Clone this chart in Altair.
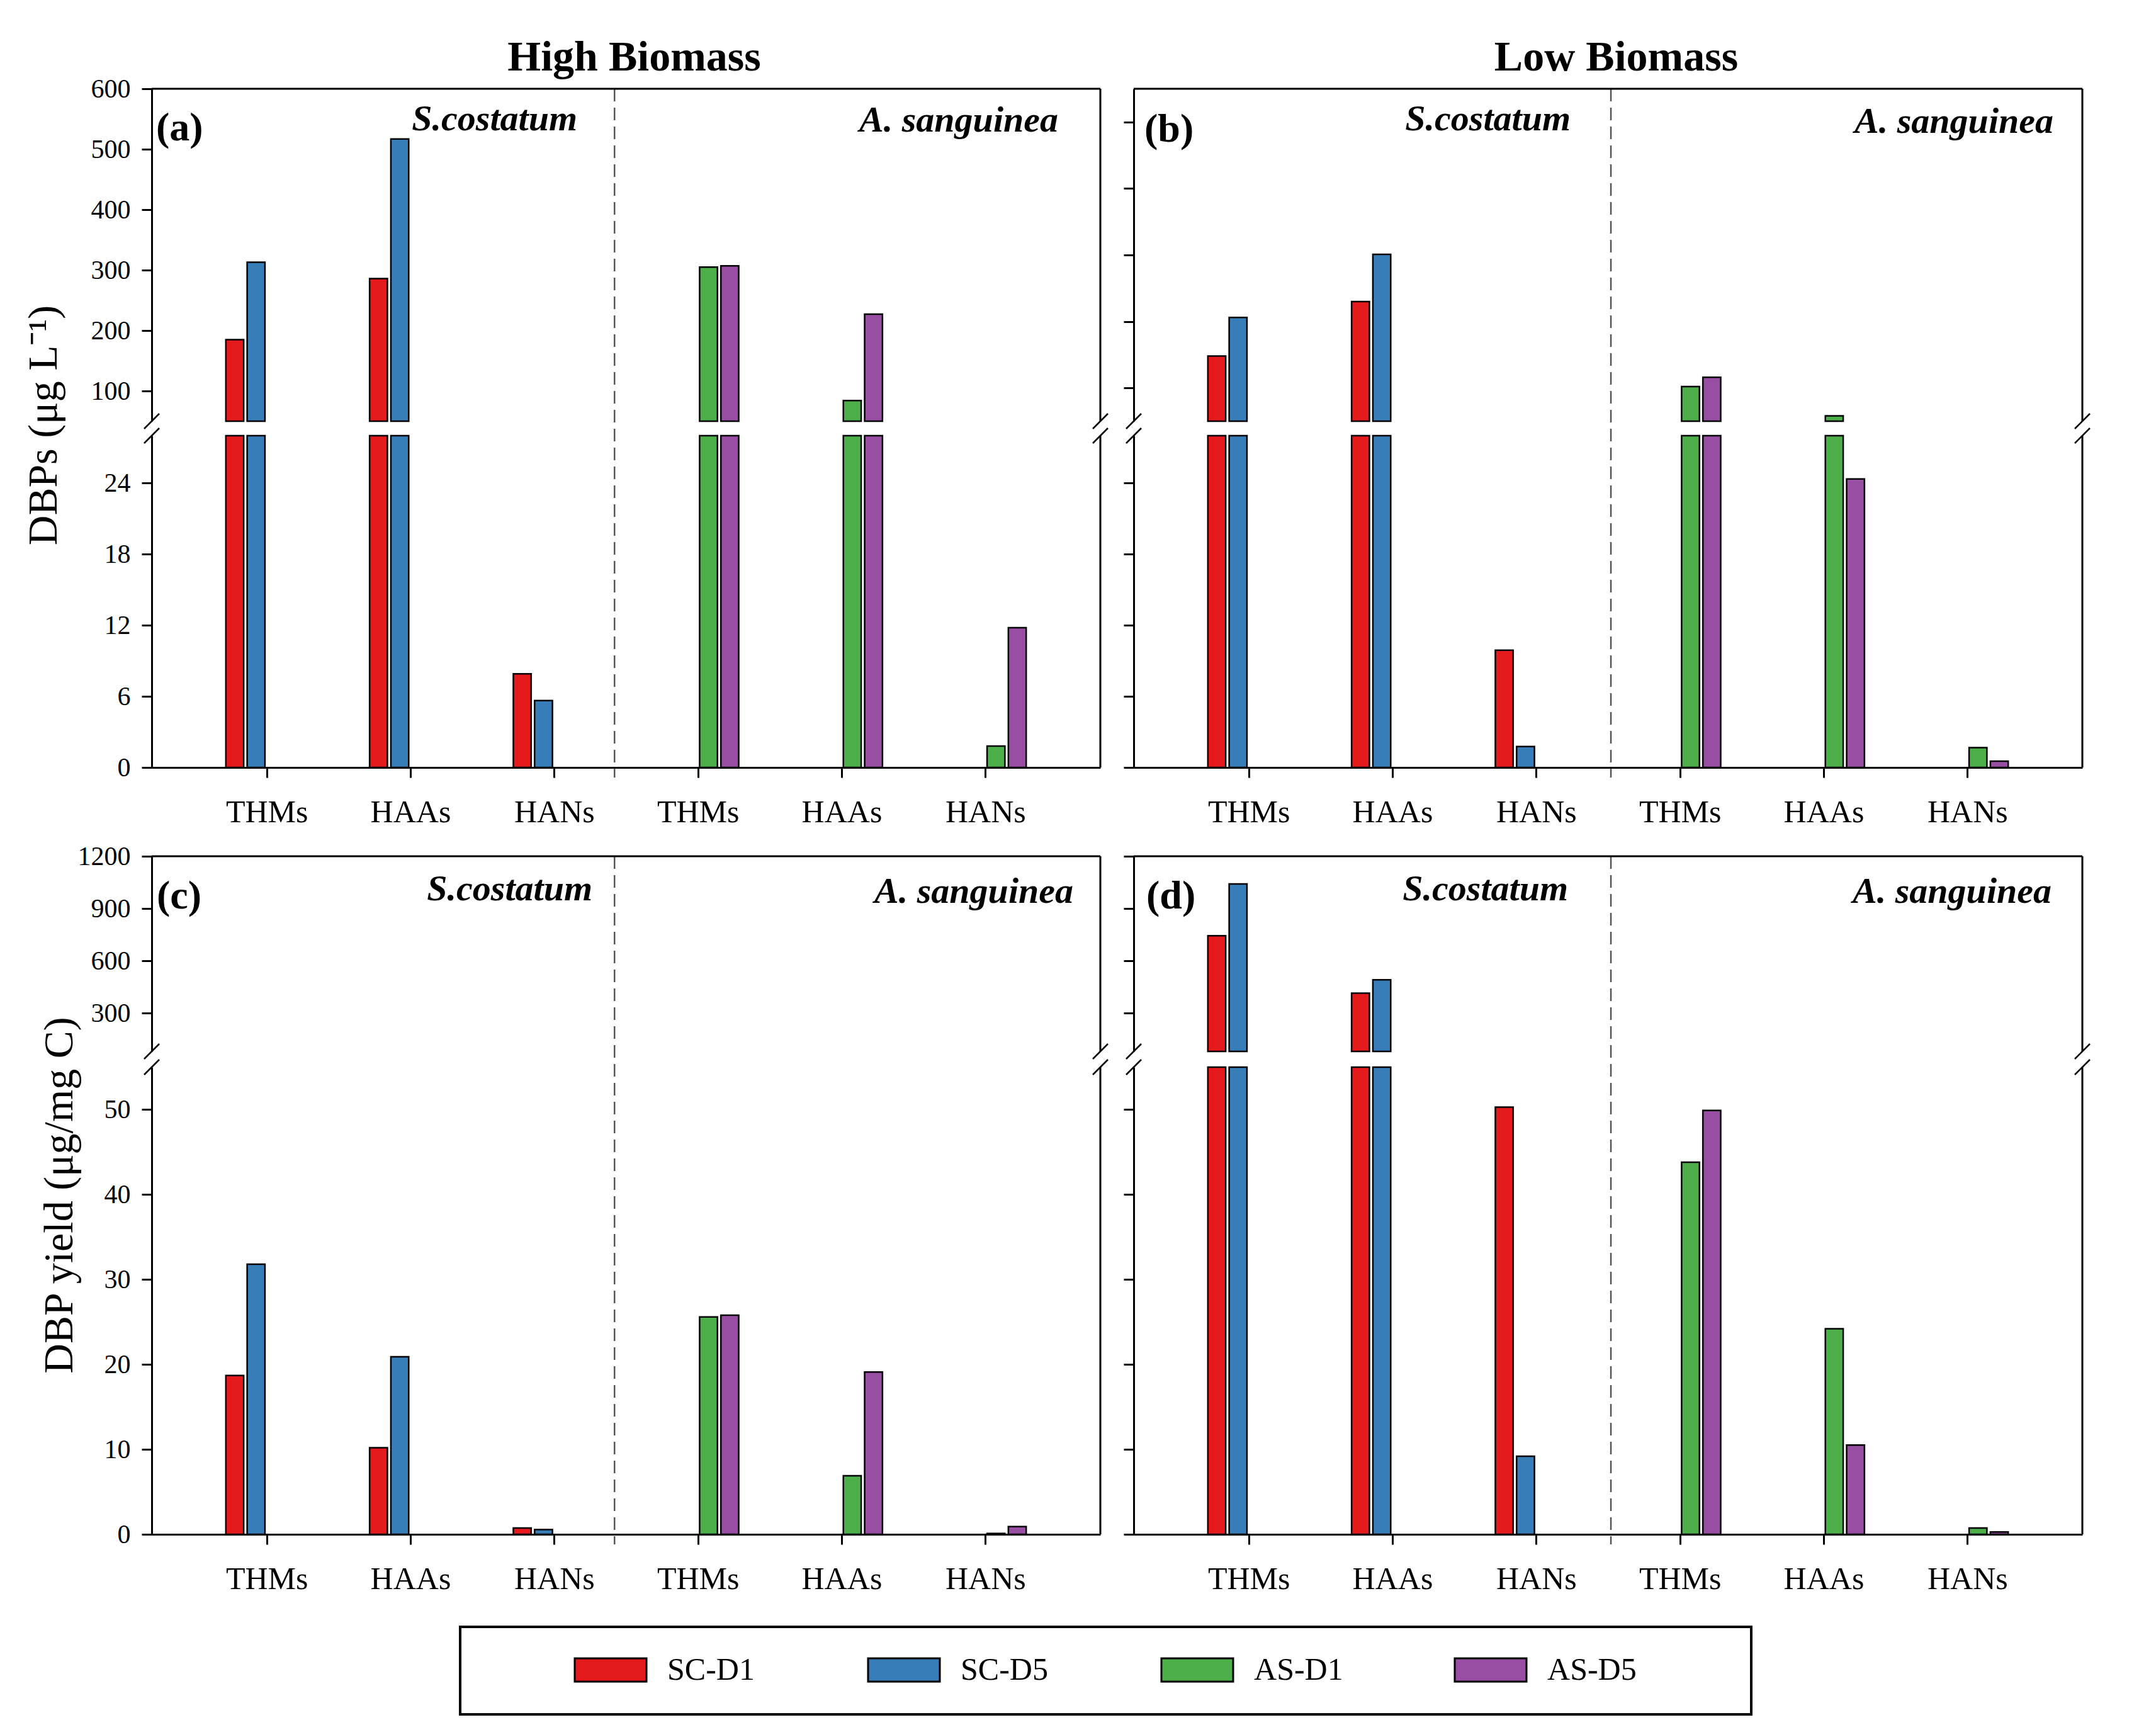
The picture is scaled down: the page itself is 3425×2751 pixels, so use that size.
import json
import altair as alt
import pandas as pd

FONT = "Liberation Serif"

series = ["SC-D1", "SC-D5", "AS-D1", "AS-D5"]
series_colors = ["#E41A1C", "#377EB8", "#4DAF4A", "#984EA3"]
categories = ["THMs", "HAAs", "HANs"]
x_labels = categories + categories

# (a) High biomass, DBPs (ug/L)
a_sc_d1 = [185, 286, 7.9]
a_sc_d5 = [313, 517, 5.65]
a_as_d1 = [305, 84, 1.8]
a_as_d5 = [307, 227, 11.8]
# (b) Low biomass, DBPs (ug/L)
b_sc_d1 = [148, 230, 9.9]
b_sc_d5 = [206, 301, 1.76]
b_as_d1 = [102, 58, 1.67]
b_as_d5 = [116, 24.35, 0.53]
# (c) High biomass, DBP yield (ug/mg C)
c_sc_d1 = [18.7, 10.2, 0.75]
c_sc_d5 = [31.8, 20.9, 0.55]
c_as_d1 = [25.6, 6.9, 0.1]
c_as_d5 = [25.8, 19.1, 0.9]
# (d) Low biomass, DBP yield (ug/mg C)
d_sc_d1 = [744, 414, 50.3]
d_sc_d5 = [1041, 491, 9.2]
d_as_d1 = [43.8, 24.2, 0.75]
d_as_d5 = [49.9, 10.5, 0.27]


def build_df(sc_d1, sc_d5, as_d1, as_d5):
    rows = []
    for name, vals in zip(series, [sc_d1, sc_d5, as_d1, as_d5]):
        start = 1 if name.startswith("SC") else 4
        for k, v in enumerate(vals):
            rows.append({"series": name, "grp": start + k, "value": v})
    return pd.DataFrame(rows)


SER_EXPR = json.dumps(series).replace('"', "'")
LAB_EXPR = json.dumps(x_labels).replace('"', "'")
one = pd.DataFrame({"k": [0]})
color = alt.Color("series:N", scale=alt.Scale(domain=series, range=series_colors), legend=None)
xs = alt.Scale(domain=[0.2, 6.8], nice=False, zero=False)
x_axis = alt.Axis(values=[1, 2, 3, 4, 5, 6], labelExpr=f"{LAB_EXPR}[datum.value - 1]",
                  title=None, tickSize=16, labelPadding=30, labelFontSize=50, orient="bottom")


def rule(**enc):
    return alt.Chart(one).mark_rule(stroke="black", strokeWidth=3).encode(**enc)


def slash(px, py):
    return alt.Chart(one).mark_rule(stroke="black", strokeWidth=2.5).encode(
        x=alt.value(px - 12), x2=alt.value(px + 12), y=alt.value(py + 12), y2=alt.value(py - 12))


def label(txt, x, y, align, size, weight="bold", style="normal"):
    return alt.Chart(one).mark_text(
        text=txt, align=align, baseline="alphabetic", font=FONT, fontSize=size,
        fontWeight=weight, fontStyle=style, color="black").encode(x=alt.value(x), y=alt.value(y))


def panel(df, W, Hu, Hl, gap, up_dom, up_ticks, lo_dom, lo_ticks, left, ytitle, tx, ty,
          dash_x, tag, tag_pos, sc_pos, as_pos, title=None):
    H = Hu + gap + Hl
    base = alt.Chart(df).transform_calculate(
        x0=f"datum.grp + (indexof({SER_EXPR}, datum.series) - 1.5) * 0.148 - 0.062"
    ).transform_calculate(x1="datum.x0 + 0.124")

    ax_kw = dict(orient="left", values=up_ticks, labels=left, tickSize=16, labelPadding=18,
                 labelFontSize=42, format="d")
    if left:
        ax_kw.update(title=ytitle, titleFontSize=66, titleFontWeight="normal", titleX=tx, titleY=ty,
                     titleAngle=270, titleAlign="center", titleBaseline="bottom")
    else:
        ax_kw.update(title=None)
    up_bars = base.transform_filter(f"datum.value > {up_dom[0]}").mark_bar(
        stroke="black", strokeWidth=2.5).encode(
        x=alt.X("x0:Q", scale=xs, axis=x_axis), x2="x1:Q",
        y=alt.Y("value:Q", scale=alt.Scale(domain=up_dom, range=[Hu, 0], nice=False, zero=False),
                axis=alt.Axis(**ax_kw)),
        y2=alt.datum(up_dom[0]), color=color)

    lo_axis = alt.Axis(orient="left", values=lo_ticks, labels=left, title=None, tickSize=16,
                       labelPadding=18, labelFontSize=42, format="d")
    lo_bars = base.transform_calculate(vlow=f"min(datum.value, {lo_dom[1]})").mark_bar(
        stroke="black", strokeWidth=2.5).encode(
        x=alt.X("x0:Q", scale=xs, axis=x_axis), x2="x1:Q",
        y=alt.Y("vlow:Q", scale=alt.Scale(domain=lo_dom, range=[H, Hu + gap], nice=False, zero=False),
                axis=lo_axis),
        y2=alt.datum(0), color=color)

    dash = alt.Chart(one).mark_rule(strokeDash=[20, 10], stroke="#555555", strokeWidth=2.5).encode(
        x=alt.XDatum(dash_x, scale=xs, axis=x_axis), y=alt.value(0), y2=alt.value(H + 16))

    layers = [
        lo_bars, up_bars, dash,
        rule(x=alt.value(0), x2=alt.value(W), y=alt.value(0)),
        rule(x=alt.value(W), y=alt.value(0), y2=alt.value(Hu)),
        rule(x=alt.value(W), y=alt.value(Hu + gap), y2=alt.value(H)),
        slash(0, Hu), slash(W, Hu), slash(0, Hu + gap), slash(W, Hu + gap),
        label(tag, tag_pos[0], tag_pos[1], "left", 64),
        label("S.costatum", sc_pos[0], sc_pos[1], "right", 58, style="italic"),
        label("A. sanguinea", as_pos[0], as_pos[1], "right", 58, style="italic"),
    ]
    if title:
        layers.append(label(title, W / 2 + 13, -29, "center", 68))
    return alt.layer(*layers).resolve_scale(y="independent").resolve_axis(y="independent").properties(
        width=W, height=H)


WL, WR = 1507, 1507
pa = panel(build_df(a_sc_d1, a_sc_d5, a_as_d1, a_as_d5), WL, 528, 527, 23,
           [50, 600], [100, 200, 300, 400, 500, 600], [0, 28], [0, 6, 12, 18, 24],
           True, "DBPs (\u03bcg L\u207b\u00b9)", -138, 534, 3.42,
           "(a)", (7, 82), (676, 66), (1440, 68), title="High Biomass")
pb = panel(build_df(b_sc_d1, b_sc_d5, b_as_d1, b_as_d5), WR, 528, 527, 23,
           [50, 550], [100, 200, 300, 400, 500], [0, 28], [0, 6, 12, 18, 24],
           False, None, 0, 0, 3.52,
           "(b)", (17, 84), (694, 66), (1461, 70), title="Low Biomass")
pc = panel(build_df(c_sc_d1, c_sc_d5, c_as_d1, c_as_d5), WL, 310, 742, 25,
           [80, 1200], [300, 600, 900, 1200], [0, 55], [0, 10, 20, 30, 40, 50],
           True, "DBP yield (\u03bcg/mg C)", -113, 538, 3.42,
           "(c)", (8, 83), (700, 70), (1464, 74))
pd_ = panel(build_df(d_sc_d1, d_sc_d5, d_as_d1, d_as_d5), WR, 310, 742, 25,
            [80, 1200], [300, 600, 900, 1200], [0, 55], [0, 10, 20, 30, 40, 50],
            False, None, 0, 0, 3.52,
            "(d)", (20, 83), (690, 70), (1458, 74))

# legend box, drawn from the series list (placed below the panels)
LEG_LEFT, LEG_W, LEG_TOP, LEG_H = 490, 2051, 6, 139
leg_df = pd.DataFrame({"series": series, "i": list(range(len(series)))})
lx = alt.Scale(domain=[0, 3], range=[LEG_LEFT + 182, LEG_LEFT + 182 + 3 * 466], nice=False, zero=False)
leg_base = alt.Chart(leg_df).transform_calculate(i2="datum.i + 0.2446", it="datum.i + 0.3155")
leg_sw = leg_base.mark_rect(stroke="black", strokeWidth=3).encode(
    x=alt.X("i:Q", scale=lx, axis=None), x2="i2:Q",
    y=alt.value(LEG_TOP + 50), y2=alt.value(LEG_TOP + 87), color=color)
leg_tx = leg_base.mark_text(align="left", baseline="middle", font=FONT, fontSize=50, color="black").encode(
    x=alt.X("it:Q", scale=lx, axis=None), y=alt.value(LEG_TOP + 69), text="series:N")
leg_box = alt.Chart(one).mark_rect(fillOpacity=0, stroke="black", strokeWidth=4).encode(
    x=alt.value(LEG_LEFT), x2=alt.value(LEG_LEFT + LEG_W), y=alt.value(LEG_TOP), y2=alt.value(LEG_TOP + LEG_H))
legend = alt.layer(leg_box, leg_sw, leg_tx).properties(width=10, height=LEG_TOP + LEG_H)

chart = alt.concat(pa, pb, pc, pd_, legend, columns=2, bounds="flush",
                   spacing={"row": 141, "column": 53}).properties(
    padding={"left": 28, "top": 50, "right": 10, "bottom": 10}, background="white"
).configure_view(stroke=None).configure_axis(
    labelFont=FONT, titleFont=FONT, grid=False, domainColor="black", tickColor="black",
    labelColor="black", titleColor="black", domainWidth=3, tickWidth=3)

chart.save("out.html", embed_options={"renderer": "svg", "actions": False})
